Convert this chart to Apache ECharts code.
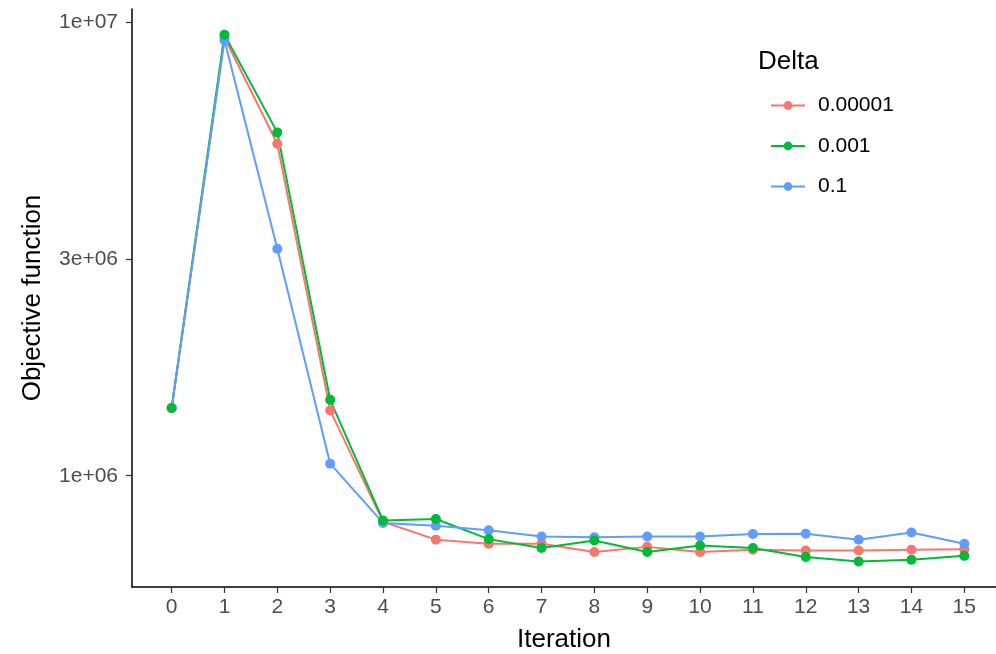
<!DOCTYPE html>
<html>
<head>
<meta charset="utf-8">
<script src="https://cdn.jsdelivr.net/npm/echarts@6/dist/echarts.min.js"></script>
<style>
  html, body { margin: 0; padding: 0; background: #fff; }
  #chart { width: 996px; height: 654px; }
</style>
</head>
<body>
<div id="chart"></div>
<script>
// Objective function per iteration for three Delta settings (log scale)
const iterations = [0, 1, 2, 3, 4, 5, 6, 7, 8, 9, 10, 11, 12, 13, 14, 15];
const deltaNames = ['0.00001', '0.001', '0.1'];
const deltaColors = ['#F8766D', '#00BA38', '#619CFF'];

const objDelta00001 = [1.41e6, 9.23e6, 5.39e6, 1.393e6, 7.92e5, 7.23e5, 7.08e5, 7.08e5,
                       6.79e5, 6.97e5, 6.79e5, 6.87e5, 6.84e5, 6.84e5, 6.87e5, 6.89e5];
const objDelta001   = [1.41e6, 9.376e6, 5.71e6, 1.47e6, 7.97e5, 8.03e5, 7.25e5, 6.93e5,
                       7.20e5, 6.79e5, 7.02e5, 6.93e5, 6.62e5, 6.47e5, 6.53e5, 6.66e5];
const objDelta01    = [1.41e6, 9.11e6, 3.165e6, 1.063e6, 7.87e5, 7.76e5, 7.58e5, 7.35e5,
                       7.32e5, 7.35e5, 7.35e5, 7.44e5, 7.45e5, 7.23e5, 7.50e5, 7.08e5];

const yTickValues = [1e6, 3e6, 1e7];
const yTickLabels = ['1e+06', '3e+06', '1e+07'];
const xTickLabels = ['0', '1', '2', '3', '4', '5', '6', '7', '8', '9', '10', '11', '12', '13', '14', '15'];

const seriesValues = [objDelta00001, objDelta001, objDelta01];
const FONT = 'Liberation Sans, Arial, sans-serif';

const pairs = v => iterations.map((it, i) => [it, v[i]]);

const series = [];
// all lines first, then all points on top
seriesValues.forEach((vals, k) => {
  series.push({
    name: deltaNames[k],
    type: 'line',
    data: pairs(vals),
    symbol: 'circle',
    symbolSize: 9,
    showSymbol: false,
    color: deltaColors[k],
    lineStyle: { width: 2, color: deltaColors[k] },
    z: 2,
    silent: true,
    animation: false
  });
});
// point drawing order: red, blue, green (green ends up on top)
[0, 2, 1].forEach(k => {
  series.push({
    name: deltaNames[k],
    type: 'scatter',
    data: pairs(seriesValues[k]),
    symbol: 'circle',
    symbolSize: 10,
    itemStyle: { color: deltaColors[k], opacity: 1 },
    z: 3,
    silent: true,
    animation: false
  });
});

const chart = echarts.init(document.getElementById('chart'), null, { renderer: 'canvas' });
chart.setOption({
  backgroundColor: '#ffffff',
  animation: false,
  title: {
    text: 'Delta',
    left: 753,
    top: 44,
    textStyle: { fontFamily: FONT, fontSize: 26, fontWeight: 'normal', color: '#000' }
  },
  legend: {
    data: deltaNames,
    orient: 'vertical',
    left: 765,
    top: 90,
    itemWidth: 34,
    itemHeight: 11,
    itemGap: 19.5,
    textStyle: { fontFamily: FONT, fontSize: 21, lineHeight: 21, color: '#000', padding: [0, 0, 0, 8] },
    selectedMode: false
  },
  grid: { left: 132, right: 0, top: 9, bottom: 67, containLabel: false, outerBoundsMode: 'none' },
  xAxis: {
    type: 'value',
    min: -0.75,
    max: 15.6,
    name: 'Iteration',
    nameLocation: 'middle',
    nameGap: 40,
    nameTextStyle: { fontFamily: FONT, fontSize: 26, color: '#000' },
    axisLine: { show: true, onZero: false, lineStyle: { color: '#000', width: 1.5 } },
    axisTick: { show: true, length: 6, customValues: iterations, lineStyle: { color: '#333', width: 1.2 } },
    axisLabel: {
      customValues: iterations,
      fontFamily: FONT, fontSize: 21, color: '#4d4d4d', margin: 10,
      formatter: v => xTickLabels[iterations.indexOf(Math.round(v))]
    },
    splitLine: { show: false }
  },
  yAxis: {
    type: 'log',
    logBase: 10,
    min: 568600,
    max: 10680000,
    name: 'Objective function',
    nameLocation: 'middle',
    nameRotate: 90,
    nameGap: 86,
    nameTextStyle: { fontFamily: FONT, fontSize: 26, color: '#000' },
    axisLine: { show: true, onZero: false, lineStyle: { color: '#000', width: 1.5 } },
    axisTick: { show: true, length: 6, customValues: yTickValues, lineStyle: { color: '#333', width: 1.2 } },
    axisLabel: {
      customValues: yTickValues,
      fontFamily: FONT, fontSize: 21, color: '#4d4d4d', margin: 14,
      formatter: v => {
        let best = 0;
        yTickValues.forEach((t, i) => { if (Math.abs(Math.log10(t) - Math.log10(v)) < Math.abs(Math.log10(yTickValues[best]) - Math.log10(v))) best = i; });
        return yTickLabels[best];
      }
    },
    splitLine: { show: false },
    minorTick: { show: false }
  },
  series: series
});
</script>
</body>
</html>
